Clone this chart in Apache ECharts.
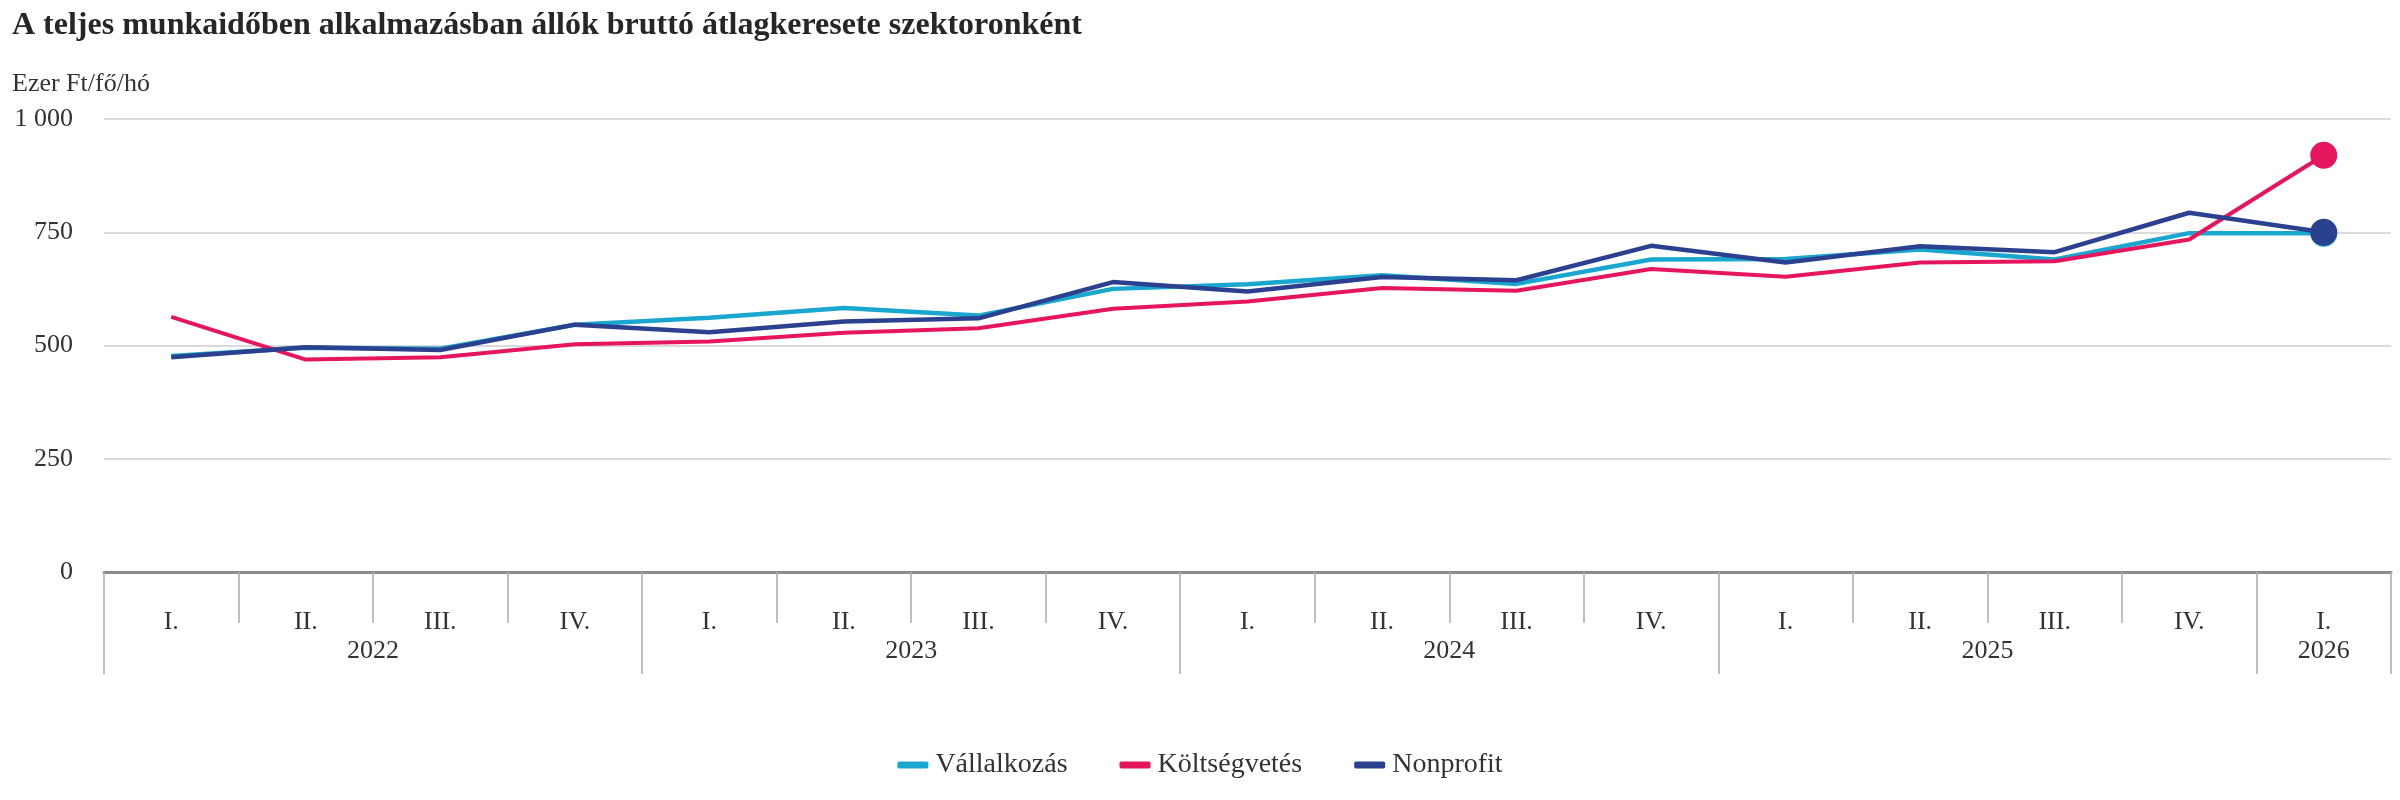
<!DOCTYPE html>
<html>
<head>
<meta charset="utf-8">
<script src="https://cdn.jsdelivr.net/npm/echarts@6/dist/echarts.min.js"></script>
<style>
  html, body { margin: 0; padding: 0; background: #fff; }
  #chart { width: 2400px; height: 800px; }
</style>
</head>
<body>
<div id="chart"></div>
<script>
// ---- data ----
const quarterLabels = ['I.','II.','III.','IV.','I.','II.','III.','IV.','I.','II.','III.','IV.','I.','II.','III.','IV.','I.'];
const yearOfQuarter = ['2022','2022','2022','2022','2023','2023','2023','2023','2024','2024','2024','2024','2025','2025','2025','2025','2026'];
const seriesNames = ['Vállalkozás','Költségvetés','Nonprofit'];
const vallalkozas  = [477, 495, 493, 546, 561, 583, 566, 625, 635, 655, 636, 690, 691, 712, 690, 748, 748];
const koltsegvetes = [563, 469, 474, 503, 509, 528, 538, 581, 597, 627, 621, 669, 652, 683, 686, 734, 920];
const nonprofit    = [474, 496, 490, 546, 529, 553, 560, 640, 619, 651, 644, 720, 683, 719, 706, 793, 750];
const yTicks = [0, 250, 500, 750, 1000];

const FONT = 'Liberation Serif';
const TXT = '#333333';
const colors = ['#1aa7cf', '#e5155e', '#2b4190'];

// year groups derived from per-quarter year labels
const groups = [];
yearOfQuarter.forEach((y, i) => {
  if (!groups.length || groups[groups.length - 1].year !== y) groups.push({ year: y, start: i, span: 1 });
  else groups[groups.length - 1].span++;
});
const nQ = quarterLabels.length;
const yearAxisData = new Array(2 * nQ + 1).fill('');
const yearTickIdx = new Set([2 * nQ]);
groups.forEach(g => {
  yearAxisData[2 * g.start + g.span] = g.year;
  yearTickIdx.add(2 * g.start);
});

function withEndMarker(arr) {
  return arr.map((v, i) => i === arr.length - 1
    ? { value: v, symbol: 'circle', symbolSize: 27 }
    : v);
}

const chart = echarts.init(document.getElementById('chart'), null, { renderer: 'canvas' });
chart.setOption({
  animation: false,
  backgroundColor: '#ffffff',
  textStyle: { fontFamily: FONT },
  title: [
    { text: 'A teljes munkaidőben alkalmazásban állók bruttó átlagkeresete szektoronként',
      left: 12, top: 10, padding: 0,
      textStyle: { fontFamily: FONT, fontSize: 32, fontWeight: 'bold', color: '#262626' } },
    { text: 'Ezer Ft/fő/hó', left: 12, top: 71, padding: 0,
      textStyle: { fontFamily: FONT, fontSize: 26, fontWeight: 'normal', color: TXT } }
  ],
  legend: {
    data: seriesNames,
    left: 'center', top: 746,
    itemGap: 52, itemWidth: 31, itemHeight: 7,
    icon: 'roundRect',
    textStyle: { fontFamily: FONT, fontSize: 28, color: TXT, padding: [0, 0, 0, 2] }
  },
  grid: { left: 104, right: 9, top: 119, bottom: 228, containLabel: false },
  xAxis: [
    {
      type: 'category', data: quarterLabels, boundaryGap: true, position: 'bottom',
      axisLine: { show: true, lineStyle: { color: '#8c8c8c', width: 3 } },
      axisTick: { show: true, length: 51, lineStyle: { color: '#ababab', width: 1.5 } },
      axisLabel: { interval: 0, margin: 37, fontFamily: FONT, fontSize: 26, color: TXT },
      splitLine: { show: false }
    },
    {
      type: 'category', data: yearAxisData, boundaryGap: false, position: 'bottom',
      axisLine: { show: false },
      axisTick: { show: true, length: 102, interval: (idx) => yearTickIdx.has(idx),
                  lineStyle: { color: '#ababab', width: 1.5 } },
      axisLabel: { interval: 0, margin: 66, fontFamily: FONT, fontSize: 26, color: TXT },
      splitLine: { show: false }
    }
  ],
  yAxis: {
    type: 'value', min: yTicks[0], max: yTicks[yTicks.length - 1], interval: 250,
    axisLine: { show: false }, axisTick: { show: false },
    axisLabel: { margin: 31, fontFamily: FONT, fontSize: 26, color: TXT,
      formatter: v => String(v).replace(/\B(?=(\d{3})+(?!\d))/g, ' ') },
    splitLine: { show: true, lineStyle: { color: '#dadada', width: 2 } }
  },
  series: [
    { name: seriesNames[0], type: 'line', data: withEndMarker(vallalkozas), symbol: 'none',
      color: colors[0], lineStyle: { width: 4.5, color: colors[0] }, itemStyle: { color: colors[0] } },
    { name: seriesNames[1], type: 'line', data: withEndMarker(koltsegvetes), symbol: 'none',
      color: colors[1], lineStyle: { width: 4, color: colors[1] }, itemStyle: { color: colors[1] } },
    { name: seriesNames[2], type: 'line', data: withEndMarker(nonprofit), symbol: 'none',
      color: colors[2], lineStyle: { width: 4.5, color: colors[2] }, itemStyle: { color: colors[2] } }
  ]
});
</script>
</body>
</html>
